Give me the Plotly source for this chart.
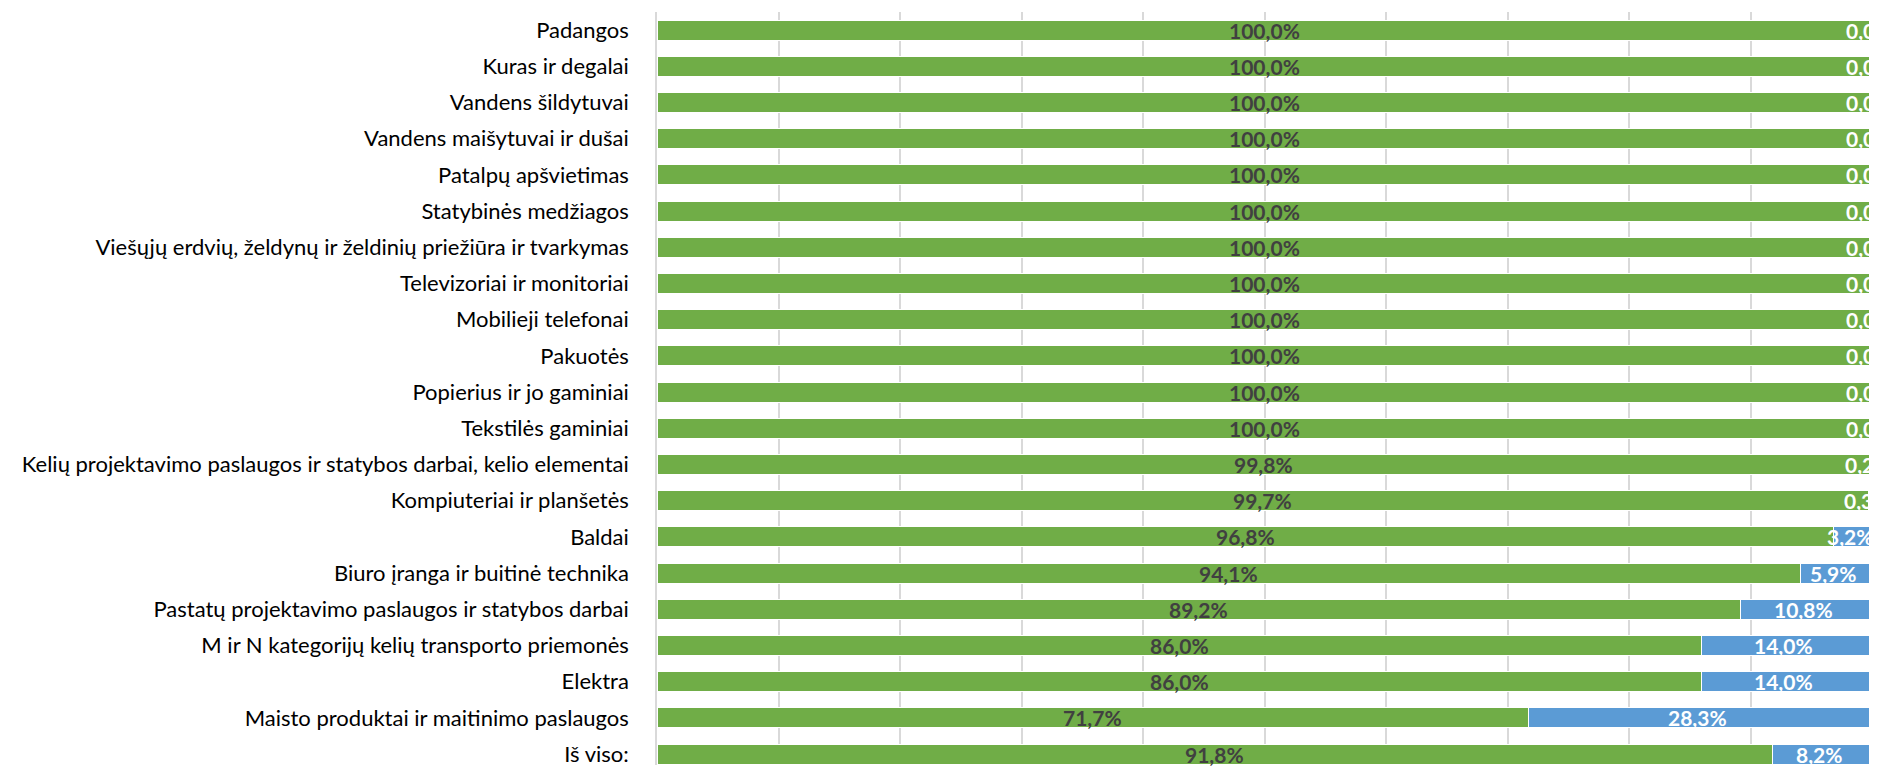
import plotly.graph_objects as go

categories = [
    "Padangos",
    "Kuras ir degalai",
    "Vandens šildytuvai",
    "Vandens maišytuvai ir dušai",
    "Patalpų apšvietimas",
    "Statybinės medžiagos",
    "Viešųjų erdvių, želdynų ir želdinių priežiūra ir tvarkymas",
    "Televizoriai ir monitoriai",
    "Mobilieji telefonai",
    "Pakuotės",
    "Popierius ir jo gaminiai",
    "Tekstilės gaminiai",
    "Kelių projektavimo paslaugos ir statybos darbai, kelio elementai",
    "Kompiuteriai ir planšetės",
    "Baldai",
    "Biuro įranga ir buitinė technika",
    "Pastatų projektavimo paslaugos ir statybos darbai",
    "M ir N kategorijų kelių transporto priemonės",
    "Elektra",
    "Maisto produktai ir maitinimo paslaugos",
    "Iš viso:",
]
green_values = [100.0, 100.0, 100.0, 100.0, 100.0, 100.0, 100.0, 100.0, 100.0, 100.0,
                100.0, 100.0, 99.8, 99.7, 96.8, 94.1, 89.2, 86.0, 86.0, 71.7, 91.8]
blue_values = [0.0, 0.0, 0.0, 0.0, 0.0, 0.0, 0.0, 0.0, 0.0, 0.0,
               0.0, 0.0, 0.2, 0.3, 3.2, 5.9, 10.8, 14.0, 14.0, 28.3, 8.2]

GREEN = "#70AD47"
BLUE = "#5B9BD5"
FONT = "Lato"


def fmt(v):
    return f"{v:.1f}".replace(".", ",") + "%"


fig = go.Figure()
fig.add_trace(go.Bar(
    y=categories, x=green_values, orientation="h",
    marker=dict(color=GREEN, line=dict(color="white", width=1)),
    hoverinfo="skip", showlegend=False,
))
fig.add_trace(go.Bar(
    y=categories, x=blue_values, orientation="h",
    marker=dict(color=BLUE, line=dict(color="white", width=1)),
    hoverinfo="skip", showlegend=False,
))

# data labels centred on each segment
for cat, g, b in zip(categories, green_values, blue_values):
    fig.add_annotation(
        x=g / 2, y=cat, xref="x", yref="y",
        text=fmt(g), showarrow=False,
        xanchor="center", yanchor="middle",
        font=dict(family=FONT, size=21, color="#404040", weight="bold"),
    )
    fig.add_annotation(
        x=g + b / 2, y=cat, xref="x", yref="y",
        text=fmt(b), showarrow=False, xshift=-3,
        xanchor="center", yanchor="middle",
        font=dict(family=FONT, size=21, color="white", weight="bold"),
    )

fig.update_layout(
    barmode="stack",
    bargap=0.45,
    width=1869, height=759,
    margin=dict(l=649, r=0, t=4, b=0),
    plot_bgcolor="white", paper_bgcolor="white",
    font=dict(family=FONT, size=22, color="#000000"),
    xaxis=dict(
        range=[0, 100.41], dtick=10, showticklabels=False,
        showgrid=True, gridcolor="#D9D9D9", gridwidth=1.5,
        zeroline=False, showline=False, fixedrange=True,
    ),
    yaxis=dict(
        categoryorder="array", categoryarray=categories,
        range=[20.3, -0.5], showgrid=False, zeroline=False,
        showline=True, linecolor="#D9D9D9", linewidth=1.5,
        ticks="", ticklabelstandoff=22,
        tickfont=dict(family=FONT, size=22, color="#000000"),
        fixedrange=True,
    ),
)

fig.write_html("out.html")
